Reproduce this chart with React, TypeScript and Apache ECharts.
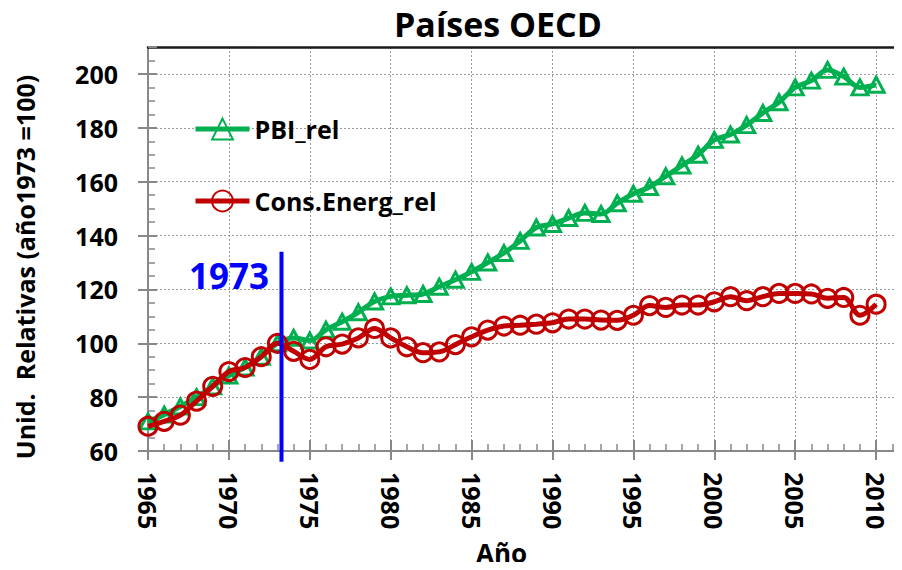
import React, { useEffect, useRef } from "react";
import * as echarts from "echarts";

const years: number[] = [
  1965, 1966, 1967, 1968, 1969, 1970, 1971, 1972, 1973, 1974, 1975, 1976, 1977, 1978, 1979,
  1980, 1981, 1982, 1983, 1984, 1985, 1986, 1987, 1988, 1989, 1990, 1991, 1992, 1993, 1994,
  1995, 1996, 1997, 1998, 1999, 2000, 2001, 2002, 2003, 2004, 2005, 2006, 2007, 2008, 2009, 2010,
];

const pbiRel: number[] = [
  71, 73.5, 76.5, 80, 84, 88, 91, 95, 100, 102, 101, 105, 108, 111.5, 115.5,
  117.4, 117.8, 118.3, 121, 123.6, 126.5, 130, 133.5, 138, 143, 144.3, 146.5, 148.4, 148, 152,
  155.5, 158, 162, 166, 170, 175.5, 177.5, 181, 185.5, 189.5, 195, 197.5, 201.5, 199, 195, 196,
];

const consEnergRel: number[] = [
  69.2, 71, 73.3, 78.5, 84, 89.5, 91, 95, 100, 97, 94, 98.7, 99.7, 102, 105.5,
  102, 98.7, 96.5, 96.8, 99.5, 102.4, 104.9, 106.4, 106.7, 107.1, 107.6, 109, 109, 108.6, 108.5,
  110.4, 114, 113.3, 114.2, 114.2, 115.4, 117.3, 115.8, 117.3, 118.5, 118.5, 118.3, 116.7, 117, 110.4, 114.5,
];

const seriesNames = ["PBI_rel", "Cons.Energ_rel"];
const markYear = 1973.25;
const markRange: number[] = [56, 134];
const markLabel = "1973";
const markLabelValue = 125;

const FONT = "Open Sans";
const GREEN = "#00B050";
const RED = "#C00000";

export default function App() {
  const ref = useRef<HTMLDivElement>(null);

  useEffect(() => {
    if (!ref.current) return;
    const chart = echarts.init(ref.current, null, { renderer: "svg" });

    const xMin = 1965;
    const xMax = 2011.6;
    const yMin = 60;
    const yMax = 210;
    const gray = "#888888";

    const baseX = {
      type: "value" as const,
      min: xMin,
      max: xMax,
      gridIndex: 0,
    };
    const baseY = {
      type: "value" as const,
      min: yMin,
      max: yMax,
      gridIndex: 0,
    };

    const option: any = {
      animation: false,
      backgroundColor: "#ffffff",
      title: {
        text: "Países OECD",
        left: 394,
        top: 7,
        padding: 0,
        textStyle: { fontFamily: FONT, fontWeight: "bold", fontSize: 34, color: "#000" },
      },
      grid: { left: 148, right: 0, top: 47, bottom: 119, containLabel: false },
      legend: {
        orient: "vertical",
        left: 193,
        top: 116,
        padding: 0,
        itemWidth: 54,
        itemHeight: 26,
        itemGap: 46,
        data: [
          { name: seriesNames[0], lineStyle: { width: 5, color: GREEN } },
          { name: seriesNames[1], lineStyle: { width: 5, color: RED } },
        ],
        textStyle: { fontFamily: FONT, fontWeight: "bold", fontSize: 25, color: "#000", lineHeight: 26 },
      },
      xAxis: [
        {
          ...baseX,
          position: "bottom",
          interval: 5,
          axisLine: { show: true, onZero: false, lineStyle: { color: gray, width: 2 } },
          axisTick: { show: true, inside: false, length: 9, lineStyle: { color: gray, width: 2 } },
          axisLabel: {
            show: true,
            rotate: -90,
            margin: 21,
            showMaxLabel: false,
            formatter: (v: number) => String(v),
            fontFamily: FONT,
            fontWeight: "bold",
            fontSize: 25,
            color: "#000",
          },
          splitLine: { show: true, lineStyle: { color: "#999", width: 1, type: [2, 2] } },
        },
        {
          ...baseX,
          position: "bottom",
          interval: 1,
          axisLine: { show: false, onZero: false },
          axisTick: { show: true, inside: true, length: 7, lineStyle: { color: gray, width: 1.5 } },
          axisLabel: { show: false },
          splitLine: { show: false },
        },
        {
          ...baseX,
          position: "bottom",
          interval: 5,
          axisLine: { show: false, onZero: false },
          axisTick: { show: true, inside: true, length: 11, lineStyle: { color: gray, width: 2 } },
          axisLabel: { show: false },
          splitLine: { show: false },
        },
        {
          ...baseX,
          position: "top",
          interval: 5,
          axisLine: { show: true, onZero: false, lineStyle: { color: "#1a1a1a", width: 2.5 } },
          axisTick: { show: false },
          axisLabel: { show: false },
          splitLine: { show: false },
        },
      ],
      yAxis: [
        {
          ...baseY,
          position: "left",
          interval: 20,
          axisLine: { show: true, onZero: false, lineStyle: { color: gray, width: 2 } },
          axisTick: { show: true, inside: false, length: 10, lineStyle: { color: gray, width: 2 } },
          axisLabel: {
            show: true,
            margin: 30,
            showMaxLabel: false,
            formatter: (v: number) => String(v),
            fontFamily: FONT,
            fontWeight: "bold",
            fontSize: 25,
            color: "#000",
          },
          splitLine: { show: true, lineStyle: { color: "#999", width: 1, type: [2, 2] } },
        },
        {
          ...baseY,
          position: "left",
          interval: 5,
          axisLine: { show: false, onZero: false },
          axisTick: { show: true, inside: true, length: 7, lineStyle: { color: gray, width: 1.5 } },
          axisLabel: { show: false },
          splitLine: { show: false },
        },
        {
          ...baseY,
          position: "left",
          interval: 20,
          axisLine: { show: false, onZero: false },
          axisTick: { show: true, inside: true, length: 9, lineStyle: { color: gray, width: 2 } },
          axisLabel: { show: false },
          splitLine: { show: false },
        },
      ],
      graphic: [
        {
          type: "text",
          left: 476,
          top: 540,
          style: { text: "Año", fontFamily: FONT, fontWeight: "bold", fontSize: 26, fill: "#000" },
        },
        {
          type: "text",
          x: 25,
          y: 267,
          rotation: Math.PI / 2,
          style: {
            text: "Unid.  Relativas (año1973 =100)",
            fontFamily: FONT,
            fontWeight: "bold",
            fontSize: 25,
            fill: "#000",
            align: "center",
            verticalAlign: "middle",
          },
        },
      ],
      series: [
        {
          name: seriesNames[0],
          type: "line",
          xAxisIndex: 0,
          yAxisIndex: 0,
          smooth: 0.35,
          data: years.map((y, i) => [y, pbiRel[i]]),
          symbol: "triangle",
          symbolSize: [16, 15],
          lineStyle: { color: GREEN, width: 5 },
          itemStyle: { color: "rgba(255,255,255,0)", borderColor: GREEN, borderWidth: 3 },
          z: 3,
        },
        {
          name: seriesNames[1],
          type: "line",
          xAxisIndex: 0,
          yAxisIndex: 0,
          smooth: 0.35,
          data: years.map((y, i) => [y, consEnergRel[i]]),
          symbol: "circle",
          symbolSize: 18,
          lineStyle: { color: RED, width: 5 },
          itemStyle: { color: "rgba(255,255,255,0)", borderColor: RED, borderWidth: 3 },
          z: 4,
        },
        {
          name: "marca1973",
          type: "line",
          xAxisIndex: 0,
          yAxisIndex: 0,
          clip: false,
          silent: true,
          symbol: "none",
          data: markRange.map((v) => [markYear, v]),
          lineStyle: { color: "#0000FF", width: 4 },
          z: 6,
          markPoint: {
            silent: true,
            symbol: "rect",
            symbolSize: 1,
            itemStyle: { color: "rgba(0,0,0,0)" },
            data: [{ coord: [markYear, markLabelValue] }],
            label: {
              show: true,
              formatter: markLabel,
              position: "left",
              distance: 12,
              color: "#0000FF",
              fontFamily: "Open Sans",
              fontWeight: "bold",
              fontSize: 35,
            },
          },
        },
      ],
    };

    chart.setOption(option);
    return () => chart.dispose();
  }, []);

  return <div ref={ref} style={{ width: 902, height: 570, margin: -8 }} />;
}
